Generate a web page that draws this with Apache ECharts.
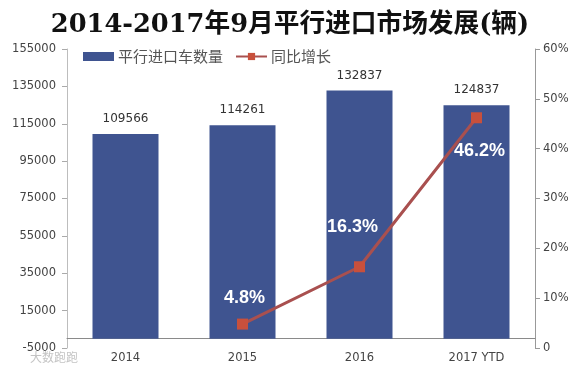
<!DOCTYPE html>
<html>
<head>
<meta charset="utf-8">
<script src="https://cdn.jsdelivr.net/npm/echarts@6/dist/echarts.min.js"></script>
<style>
html, body { margin: 0; padding: 0; background: #fff; }
#main { width: 580px; height: 373px; }
</style>
</head>
<body>
<div id="main"></div>
<script>
var categories = ['2014', '2015', '2016', '2017 YTD'];
var volume = [109566, 114261, 132837, 124837];
var growth = [null, 4.8, 16.3, 46.2];
var leftTicks = [-5000, 15000, 35000, 55000, 75000, 95000, 115000, 135000, 155000];
var rightTicks = [0, 10, 20, 30, 40, 50, 60];
var volumeName = '平行进口车数量';
var growthName = '同比增长';
// excel style placement of the white labels, above or below the point
var growthLabelOffset = [null, [2, -26], [-7, -40], [3, 33]];

var chart = echarts.init(document.getElementById('main'));
var axisFont = 'DejaVu Sans';

var option = {
    backgroundColor: '#fff',
    animation: false,
    title: {
        text: '2014-2017年9月平行进口市场发展(辆)',
        left: 'center',
        top: 7,
        textStyle: {
            fontFamily: '"DejaVu Serif", "Noto Sans CJK SC"',
            fontWeight: 'bold',
            fontSize: 25.7,
            color: '#111'
        }
    },
    legend: {
        left: 78,
        top: 44,
        itemGap: 12,
        itemWidth: 31,
        itemHeight: 9,
        data: [
            { name: volumeName, icon: 'rect' },
            { name: growthName }
        ],
        textStyle: {
            fontFamily: 'Noto Sans CJK SC',
            fontSize: 15,
            color: '#555',
            padding: [0, 0, 0, -1]
        }
    },
    grid: { left: 67, right: 45, top: 49, bottom: 25 },
    xAxis: {
        type: 'category',
        data: categories,
        axisLine: { lineStyle: { color: '#8a8a8a', width: 1 } },
        axisTick: { length: 4, lineStyle: { color: '#aaa' } },
        axisLabel: { margin: 4, fontFamily: axisFont, fontSize: 11.5, color: '#444' }
    },
    yAxis: [{
        type: 'value',
        min: -5000,
        max: 155000,
        splitLine: { show: false },
        axisLine: { show: true, lineStyle: { color: '#bdbdbd', width: 1 } },
        axisTick: { show: true, length: 5, customValues: leftTicks, lineStyle: { color: '#aaa' } },
        axisLabel: {
            customValues: leftTicks,
            margin: 11,
            fontFamily: axisFont,
            fontSize: 11.5,
            color: '#444',
            formatter: function (v) { return String(v); }
        }
    }, {
        type: 'value',
        min: 0,
        max: 60,
        interval: 10,
        position: 'right',
        splitLine: { show: false },
        axisLine: { show: true, lineStyle: { color: '#999', width: 1 } },
        axisTick: { show: true, length: 5, customValues: rightTicks, lineStyle: { color: '#999' } },
        axisLabel: {
            customValues: rightTicks,
            margin: 8,
            fontFamily: axisFont,
            fontSize: 11.5,
            color: '#444',
            formatter: function (v) { return v === 0 ? '0' : v + '%'; }
        }
    }],
    series: [{
        name: volumeName,
        type: 'bar',
        data: volume,
        barWidth: 66,
        itemStyle: { color: '#3f5490' },
        label: {
            show: true,
            position: 'top',
            distance: 9,
            fontFamily: axisFont,
            fontSize: 12,
            color: '#333'
        }
    }, {
        name: growthName,
        type: 'line',
        yAxisIndex: 1,
        data: growth.map(function (v, i) {
            if (v === null) return null;
            return { value: v, label: { offset: growthLabelOffset[i] } };
        }),
        lineStyle: { color: '#a9504f', width: 3 },
        itemStyle: { color: '#c8503c' },
        symbol: 'rect',
        symbolSize: 11,
        label: {
            show: true,
            position: 'inside',
            fontFamily: 'Liberation Sans',
            fontWeight: 'bold',
            fontSize: 18,
            color: '#fff',
            formatter: function (p) { return p.value + '%'; }
        }
    }],
    graphic: [{
        type: 'text',
        left: 30,
        top: 351,
        style: { text: '大数跑跑', fontFamily: 'Noto Sans CJK SC', fontSize: 12, fill: '#c4c4c4' }
    }]
};
chart.setOption(option);
</script>
</body>
</html>
